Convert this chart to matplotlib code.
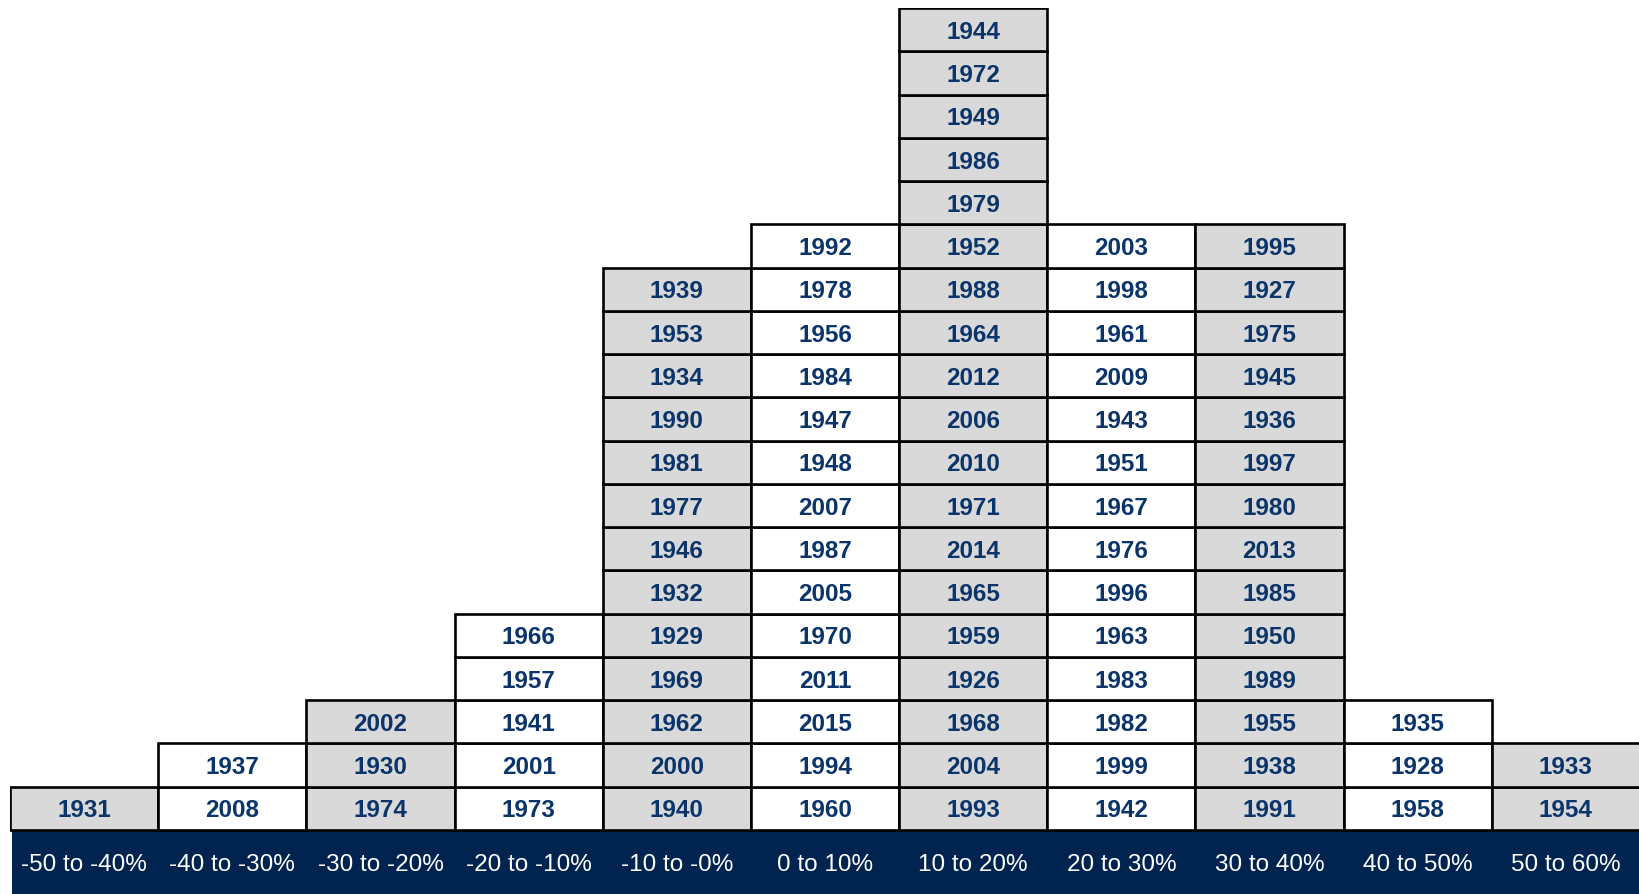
#!/usr/bin/env python3

import matplotlib
matplotlib.use("Agg")
import matplotlib.pyplot as plt

# return ranges along the bottom, and the years that fell in each one (bottom of stack first)
ranges = ["-50 to -40%", "-40 to -30%", "-30 to -20%", "-20 to -10%", "-10 to -0%",
          "0 to 10%", "10 to 20%", "20 to 30%", "30 to 40%", "40 to 50%", "50 to 60%"]

years = [
    [1931],
    [2008, 1937],
    [1974, 1930, 2002],
    [1973, 2001, 1941, 1957, 1966],
    [1940, 2000, 1962, 1969, 1929, 1932, 1946, 1977, 1981, 1990, 1934, 1953, 1939],
    [1960, 1994, 2015, 2011, 1970, 2005, 1987, 2007, 1948, 1947, 1984, 1956, 1978, 1992],
    [1993, 2004, 1968, 1926, 1959, 1965, 2014, 1971, 2010, 2006, 2012, 1964, 1988, 1952,
     1979, 1986, 1949, 1972, 1944],
    [1942, 1999, 1982, 1983, 1963, 1996, 1976, 1967, 1951, 1943, 2009, 1961, 1998, 2003],
    [1991, 1938, 1955, 1989, 1950, 1985, 2013, 1980, 1997, 1936, 1945, 1975, 1927, 1995],
    [1958, 1928, 1935],
    [1954, 1933],
]

NAVY = "#002350"
GRAY = "#d9d9d9"
TEXT = "#0b356a"

W, H = 1640, 894
fig = plt.figure(figsize=(W / 100, H / 100), dpi=100)

band = 64 / 43.2  # height of the label strip in row units
n_rows = max(len(c) for c in years)
ax = fig.add_axes((10 / W, 0, 1630 / W, (H - 8) / H))
ax.set_xlim(0, len(ranges))
ax.set_ylim(-band, n_rows)
ax.axis("off")

for i, col in enumerate(years):
    face = GRAY if i % 2 == 0 else "white"
    ax.bar([i] * len(col), 1, bottom=range(len(col)), width=1, align="edge",
           color=face, edgecolor="black", linewidth=1.9, zorder=2)
    for j, yr in enumerate(col):
        ax.text(i + 0.5, j + 0.44, str(yr), ha="center", va="center",
                fontsize=17.5, fontweight="bold", color=TEXT,
                family="Liberation Sans", zorder=3)

ax.bar(0.015, band, bottom=-band, width=len(ranges), align="edge",
       color=NAVY, linewidth=0, zorder=1, clip_on=False)
for i, r in enumerate(ranges):
    ax.text(i + 0.5, -band / 2 - 0.06, r, ha="center", va="center",
            fontsize=17.5, color="white", family="Liberation Sans", zorder=3)

fig.savefig("out.png", dpi=100)
